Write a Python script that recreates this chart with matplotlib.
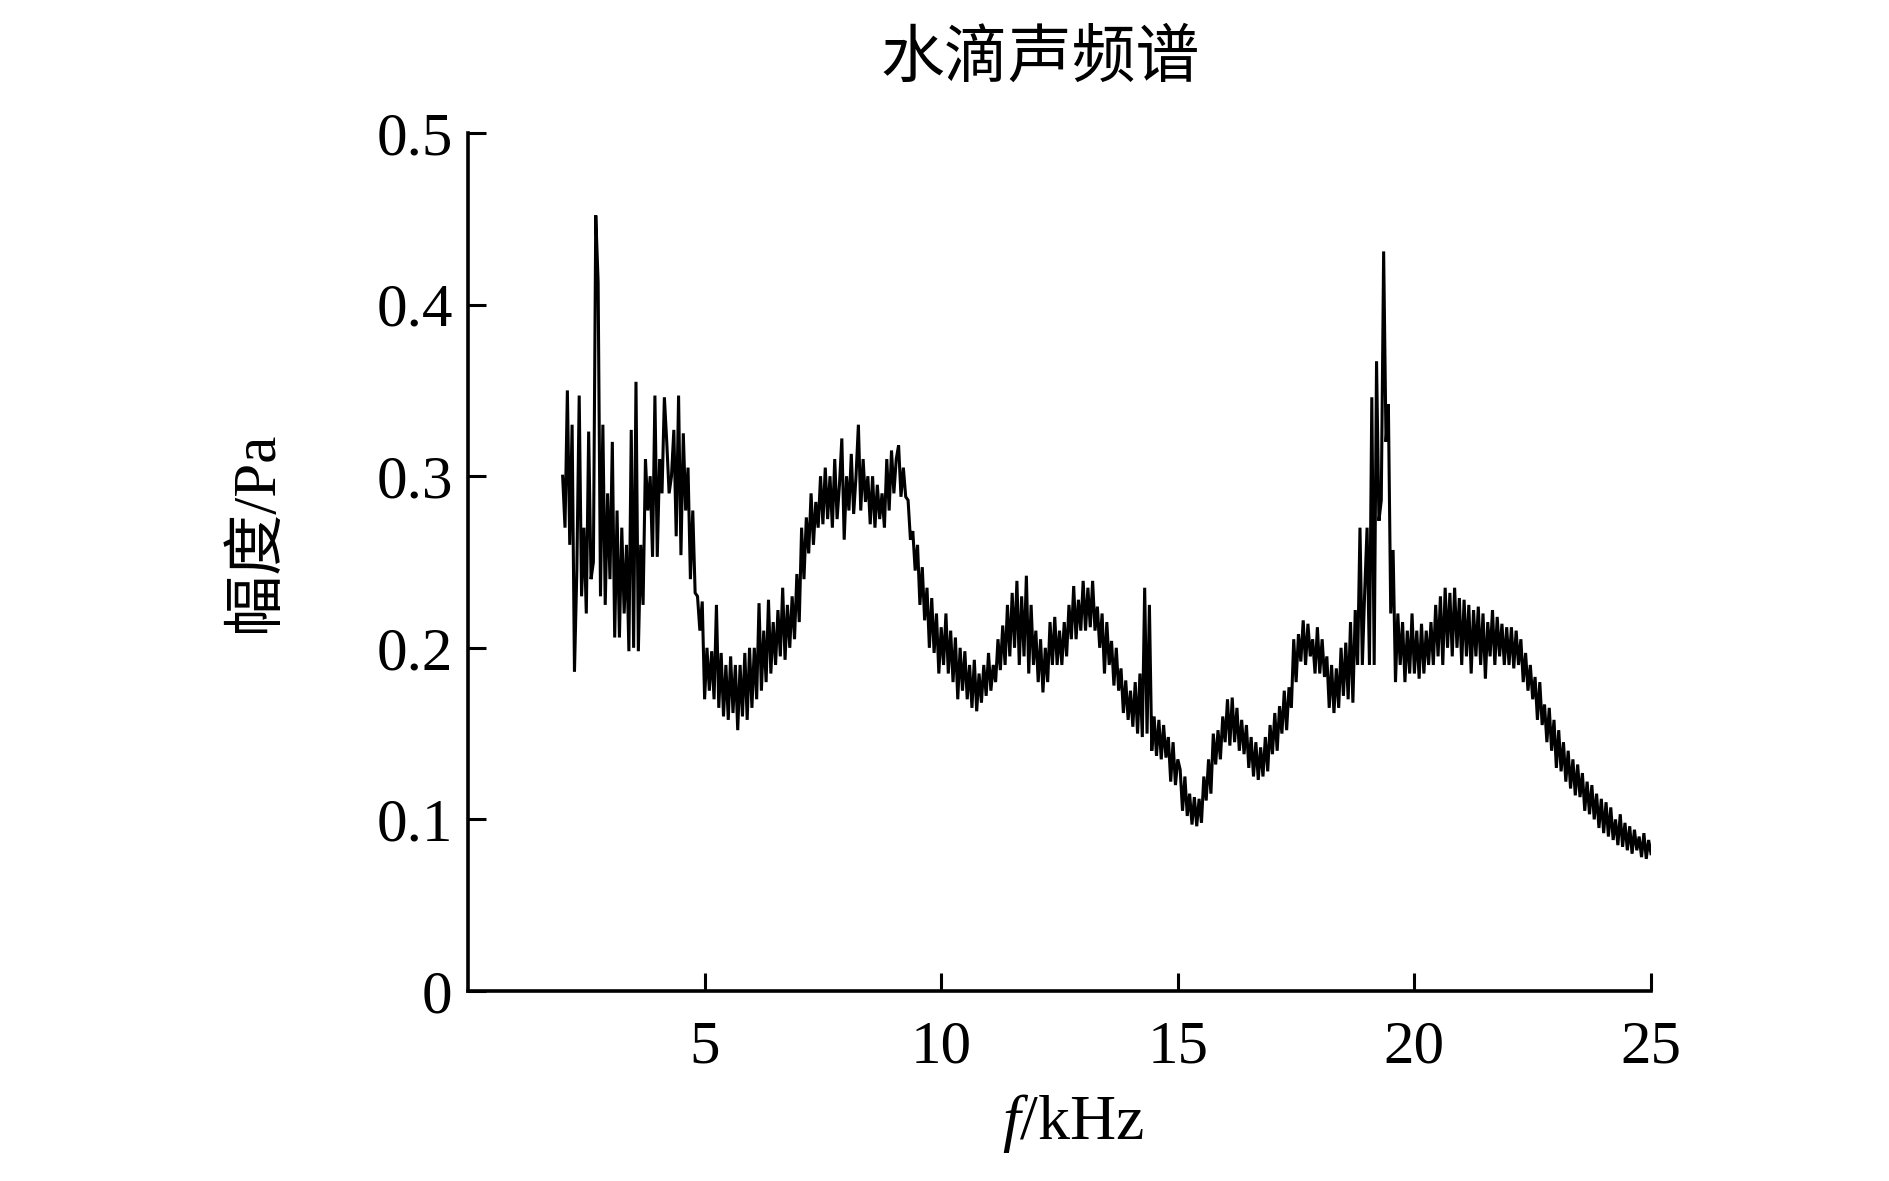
import numpy as np
import matplotlib
matplotlib.use("Agg")
import matplotlib.pyplot as plt

plt.rcParams['font.family'] = ['Liberation Serif', 'Noto Sans CJK SC', 'DejaVu Sans']
plt.rcParams['mathtext.fontset'] = 'custom'
plt.rcParams['mathtext.rm'] = 'Liberation Serif'
plt.rcParams['mathtext.it'] = 'Liberation Serif:italic'

# ---- data ----
freq_start_khz = 2.0
freq_step_khz = 0.05

amp_2 = [0.30, 0.27, 0.35, 0.26, 0.33, 0.186, 0.245, 0.347, 0.23, 0.27,
         0.22, 0.326, 0.24, 0.25, 0.452, 0.413, 0.23, 0.33, 0.225, 0.29]
amp_3 = [0.24, 0.32, 0.206, 0.28, 0.206, 0.27, 0.22, 0.26, 0.198, 0.327,
         0.20, 0.355, 0.198, 0.26, 0.225, 0.31, 0.28, 0.30, 0.253, 0.347]
amp_4 = [0.253, 0.31, 0.29, 0.346, 0.32, 0.29, 0.30, 0.327, 0.265, 0.347,
         0.254, 0.325, 0.28, 0.305, 0.24, 0.28, 0.232, 0.23, 0.21, 0.227]
amp_5 = [0.17, 0.20, 0.175, 0.198, 0.17, 0.225, 0.165, 0.197, 0.16, 0.19,
         0.158, 0.195, 0.162, 0.19, 0.152, 0.19, 0.16, 0.197, 0.158, 0.20]
amp_6 = [0.165, 0.20, 0.17, 0.226, 0.175, 0.21, 0.18, 0.228, 0.185, 0.215,
         0.19, 0.222, 0.195, 0.235, 0.193, 0.225, 0.20, 0.23, 0.205, 0.243]
amp_7 = [0.215, 0.27, 0.24, 0.276, 0.255, 0.29, 0.26, 0.285, 0.27, 0.30,
         0.272, 0.305, 0.275, 0.30, 0.27, 0.31, 0.275, 0.295, 0.322, 0.263]
amp_8 = [0.30, 0.28, 0.313, 0.278, 0.30, 0.330, 0.28, 0.31, 0.285, 0.30,
         0.272, 0.30, 0.27, 0.295, 0.275, 0.29, 0.27, 0.31, 0.28, 0.315]
amp_9 = [0.29, 0.31, 0.318, 0.288, 0.305, 0.288, 0.286, 0.263, 0.268, 0.245,
         0.26, 0.225, 0.247, 0.216, 0.235, 0.20, 0.229, 0.197, 0.22, 0.185]
amp_10 = [0.212, 0.19, 0.22, 0.185, 0.21, 0.18, 0.206, 0.17, 0.20, 0.175,
          0.198, 0.17, 0.19, 0.165, 0.193, 0.163, 0.185, 0.168, 0.19, 0.172]
amp_11 = [0.197, 0.175, 0.19, 0.18, 0.205, 0.187, 0.213, 0.19, 0.225, 0.195,
          0.232, 0.20, 0.239, 0.19, 0.23, 0.195, 0.242, 0.185, 0.225, 0.19]
amp_12 = [0.21, 0.18, 0.205, 0.174, 0.20, 0.18, 0.215, 0.19, 0.218, 0.19,
          0.21, 0.19, 0.215, 0.195, 0.225, 0.205, 0.236, 0.205, 0.228, 0.21]
amp_13 = [0.239, 0.21, 0.235, 0.212, 0.239, 0.21, 0.224, 0.20, 0.22, 0.185,
          0.215, 0.19, 0.204, 0.178, 0.20, 0.175, 0.188, 0.162, 0.181, 0.158]
amp_14 = [0.175, 0.154, 0.18, 0.15, 0.185, 0.148, 0.235, 0.15, 0.225, 0.14,
          0.16, 0.137, 0.158, 0.135, 0.155, 0.136, 0.148, 0.122, 0.145, 0.12]
amp_15 = [0.135, 0.129, 0.105, 0.125, 0.102, 0.115, 0.097, 0.113, 0.096, 0.112,
          0.098, 0.125, 0.111, 0.135, 0.115, 0.15, 0.132, 0.152, 0.135, 0.16]
amp_16 = [0.145, 0.17, 0.143, 0.171, 0.145, 0.165, 0.14, 0.158, 0.138, 0.155,
          0.13, 0.148, 0.125, 0.145, 0.123, 0.142, 0.125, 0.148, 0.128, 0.155]
amp_17 = [0.138, 0.162, 0.14, 0.166, 0.15, 0.175, 0.152, 0.177, 0.165, 0.205,
          0.18, 0.208, 0.192, 0.216, 0.19, 0.214, 0.195, 0.205, 0.185, 0.212]
amp_18 = [0.185, 0.205, 0.183, 0.195, 0.165, 0.19, 0.162, 0.188, 0.165, 0.20,
          0.172, 0.203, 0.17, 0.215, 0.168, 0.222, 0.19, 0.27, 0.19, 0.233]
amp_19 = [0.27, 0.19, 0.346, 0.19, 0.367, 0.274, 0.286, 0.431, 0.32, 0.342,
          0.22, 0.257, 0.18, 0.22, 0.19, 0.215, 0.18, 0.21, 0.185, 0.22]
amp_20 = [0.185, 0.21, 0.182, 0.214, 0.185, 0.21, 0.19, 0.215, 0.19, 0.225,
          0.195, 0.23, 0.19, 0.235, 0.20, 0.232, 0.195, 0.235, 0.20, 0.229]
amp_21 = [0.19, 0.228, 0.195, 0.225, 0.185, 0.222, 0.195, 0.224, 0.19, 0.22,
          0.182, 0.215, 0.195, 0.222, 0.19, 0.218, 0.195, 0.214, 0.19, 0.212]
amp_22 = [0.19, 0.212, 0.188, 0.21, 0.19, 0.205, 0.18, 0.197, 0.175, 0.19,
          0.17, 0.183, 0.158, 0.18, 0.155, 0.167, 0.145, 0.165, 0.14, 0.158]
amp_23 = [0.13, 0.152, 0.128, 0.145, 0.122, 0.14, 0.118, 0.135, 0.114, 0.132,
          0.113, 0.127, 0.105, 0.122, 0.103, 0.12, 0.10, 0.115, 0.095, 0.112]
amp_24 = [0.092, 0.11, 0.09, 0.107, 0.088, 0.10, 0.085, 0.103, 0.084, 0.098,
          0.082, 0.096, 0.08, 0.094, 0.082, 0.09, 0.078, 0.092, 0.077, 0.088,
          0.08]

amplitude = (amp_2 + amp_3 + amp_4 + amp_5 + amp_6 + amp_7 + amp_8 + amp_9 +
             amp_10 + amp_11 + amp_12 + amp_13 + amp_14 + amp_15 + amp_16 +
             amp_17 + amp_18 + amp_19 + amp_20 + amp_21 + amp_22 + amp_23 + amp_24)
frequency = freq_start_khz + freq_step_khz * np.arange(len(amplitude))

x_ticks = [5, 10, 15, 20, 25]
x_tick_labels = ['5', '10', '15', '20', '25']
y_ticks = [0, 0.1, 0.2, 0.3, 0.4, 0.5]
y_tick_labels = ['0', '0.1', '0.2', '0.3', '0.4', '0.5']

title_text = '水滴声频谱'
ylabel_text = '幅度/Pa'
xlabel_text = r'$\mathit{f}$/kHz'

# ---- figure ----
W, H = 1890, 1181
fig = plt.figure(figsize=(W / 100, H / 100), dpi=100)
ax_left, ax_right, ax_top, ax_bottom = 468, 1651, 133, 991
ax = fig.add_axes([ax_left / W, 1 - ax_bottom / H,
                   (ax_right - ax_left) / W, (ax_bottom - ax_top) / H])

ax.plot(frequency, amplitude, color='black', lw=2.2, solid_joinstyle='miter')

ax.set_xlim(0, 25)
ax.set_ylim(0, 0.5)
ax.set_xticks(x_ticks)
ax.set_xticklabels(x_tick_labels)
ax.set_yticks(y_ticks)
ax.set_yticklabels(y_tick_labels)

for s in ['top', 'right']:
    ax.spines[s].set_visible(False)
for s in ['left', 'bottom']:
    ax.spines[s].set_linewidth(2.6)
    ax.spines[s].set_capstyle('projecting')

ax.tick_params(axis='both', direction='in', length=13, width=2.2,
               labelsize=44, colors='black')
ax.tick_params(axis='x', pad=21)
ax.tick_params(axis='y', pad=11)

fig.text(1040 / W, 1 - 58 / H, title_text, fontsize=46,
         family=['Noto Sans CJK SC'], ha='center', va='center')
fig.text(257 / W, 1 - 532 / H, ylabel_text, fontsize=44, rotation=90,
         ha='center', va='center')
fig.text(1073 / W, 1 - 1139 / H, xlabel_text, fontsize=46,
         ha='center', va='baseline')

fig.savefig('out.png', dpi=100, facecolor='white')
